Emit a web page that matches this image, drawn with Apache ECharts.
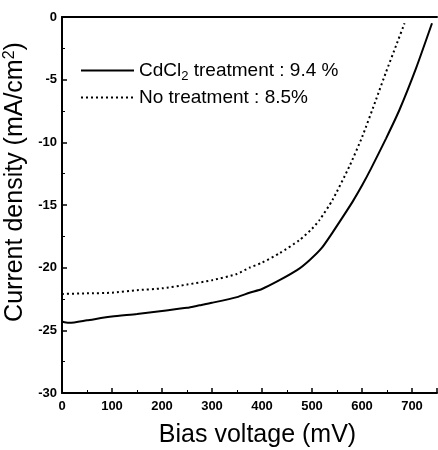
<!DOCTYPE html>
<html>
<head>
<meta charset="utf-8">
<script src="https://cdn.jsdelivr.net/npm/echarts@6/dist/echarts.min.js"></script>
<style>
  html, body { margin: 0; padding: 0; background: #fff; }
  #chart { width: 438px; height: 450px; }
</style>
</head>
<body>
<div id="chart"></div>
<script>
// J-V curves of the two cells (bias in mV, current density in mA/cm2)
const treatedVoltage = [0, 5, 15, 50, 100, 150, 200, 250, 275, 300, 350, 375, 400, 435, 470, 495, 520, 541, 560, 581, 600, 618, 648, 675, 708, 740];
const treatedCurrent = [-24.3, -24.35, -24.4, -24.2, -23.9, -23.7, -23.45, -23.2, -23.0, -22.8, -22.35, -22.0, -21.7, -21.0, -20.2, -19.4, -18.4, -17.2, -16.05, -14.75, -13.45, -12.1, -9.7, -7.4, -4.1, -0.5];

const untreatedVoltage = [0, 50, 100, 150, 200, 250, 300, 350, 375, 400, 435, 475, 500, 515, 541, 575, 600, 628, 648, 668, 685];
const untreatedCurrent = [-22.1, -22.05, -22.0, -21.8, -21.65, -21.35, -21.0, -20.5, -20.0, -19.6, -18.85, -17.8, -16.9, -16.2, -14.6, -11.9, -9.6, -6.6, -4.4, -2.3, -0.5];

const seriesNames = ['CdCl2 treatment', 'No treatment'];
const efficiencies = ['9.4 %', '8.5%'];

const xTicks = [0, 100, 200, 300, 400, 500, 600, 700];
const yTicks = [0, -5, -10, -15, -20, -25, -30];

const FONT = 'Liberation Sans, Arial, sans-serif';

const pairs = (xs, ys) => xs.map((x, i) => [x, ys[i]]);

const chart = echarts.init(document.getElementById('chart'), null, { renderer: 'canvas' });

chart.setOption({
  animation: false,
  backgroundColor: '#ffffff',
  grid: { left: 62, right: 1, top: 17, bottom: 57, containLabel: false, outerBoundsMode: 'none' },
  legend: {
    orient: 'vertical',
    left: 75,
    top: 56,
    itemWidth: 53,
    itemHeight: 12,
    itemGap: 5,
    data: seriesNames,
    itemStyle: { opacity: 0 },
    formatter: function (name) {
      if (name === seriesNames[0]) {
        return '{t|CdCl}{s|2}{t| treatment : ' + efficiencies[0] + '}';
      }
      return '{t|No treatment : ' + efficiencies[1] + '}';
    },
    textStyle: {
      rich: {
        t: { fontFamily: FONT, fontSize: 19, color: '#000' },
        s: { fontFamily: FONT, fontSize: 13, color: '#000', verticalAlign: 'bottom', padding: [12, 0, 0, 0] }
      }
    }
  },
  xAxis: [{
    type: 'value',
    min: 0,
    max: 750,
    interval: 100,
    position: 'bottom',
    axisLine: { show: true, onZero: false, lineStyle: { color: '#000', width: 2 } },
    axisTick: { show: true, inside: true, length: 5, lineStyle: { color: '#000', width: 1.5 } },
    minorTick: { show: true, splitNumber: 2, length: 3, lineStyle: { color: '#000', width: 1 } },
    splitLine: { show: false },
    axisLabel: {
      fontFamily: FONT, fontSize: 13, fontWeight: 'bold', color: '#000', margin: 7,
      formatter: v => (xTicks.indexOf(v) >= 0 ? String(v) : '')
    },
    name: 'Bias voltage (mV)',
    nameLocation: 'middle',
    nameGap: 30,
    nameTextStyle: { fontFamily: FONT, fontSize: 25, color: '#000', padding: [0, 0, 0, 16] }
  }, {
    type: 'value',
    min: 0,
    max: 750,
    position: 'top',
    axisLine: { show: true, onZero: false, lineStyle: { color: '#000', width: 2 } },
    axisTick: { show: false },
    axisLabel: { show: false },
    splitLine: { show: false }
  }],
  yAxis: {
    type: 'value',
    min: -30,
    max: 0,
    interval: 5,
    axisLine: { show: true, onZero: false, lineStyle: { color: '#000', width: 2 } },
    axisTick: { show: true, inside: true, length: 5, lineStyle: { color: '#000', width: 1.5 } },
    minorTick: { show: true, splitNumber: 2, length: 3, lineStyle: { color: '#000', width: 1 } },
    splitLine: { show: false },
    axisLabel: {
      fontFamily: FONT, fontSize: 13, fontWeight: 'bold', color: '#000', margin: 5,
      formatter: v => (yTicks.indexOf(v) >= 0 ? String(v) : '')
    },
    name: '{n|Current density (mA/cm}{p|2}{n|)}',
    nameLocation: 'middle',
    nameGap: 32,
    nameTextStyle: {
      rich: {
        n: { fontFamily: FONT, fontSize: 25, color: '#000' },
        p: { fontFamily: FONT, fontSize: 16, color: '#000', verticalAlign: 'top', padding: [0, 0, 10, 0] }
      },
      padding: [0, 0, 0, 46]
    }
  },
  series: [{
    name: seriesNames[0],
    type: 'line',
    xAxisIndex: 0,
    data: pairs(treatedVoltage, treatedCurrent),
    showSymbol: false,
    symbol: 'none',
    smooth: 0.2,
    lineStyle: { color: '#000', width: 2, type: 'solid' },
    itemStyle: { color: '#000' }
  }, {
    name: seriesNames[1],
    type: 'line',
    xAxisIndex: 0,
    data: pairs(untreatedVoltage, untreatedCurrent),
    showSymbol: false,
    symbol: 'none',
    smooth: 0.2,
    lineStyle: { color: '#000', width: 2, type: [2, 3] },
    itemStyle: { color: '#000' }
  }]
});
</script>
</body>
</html>
